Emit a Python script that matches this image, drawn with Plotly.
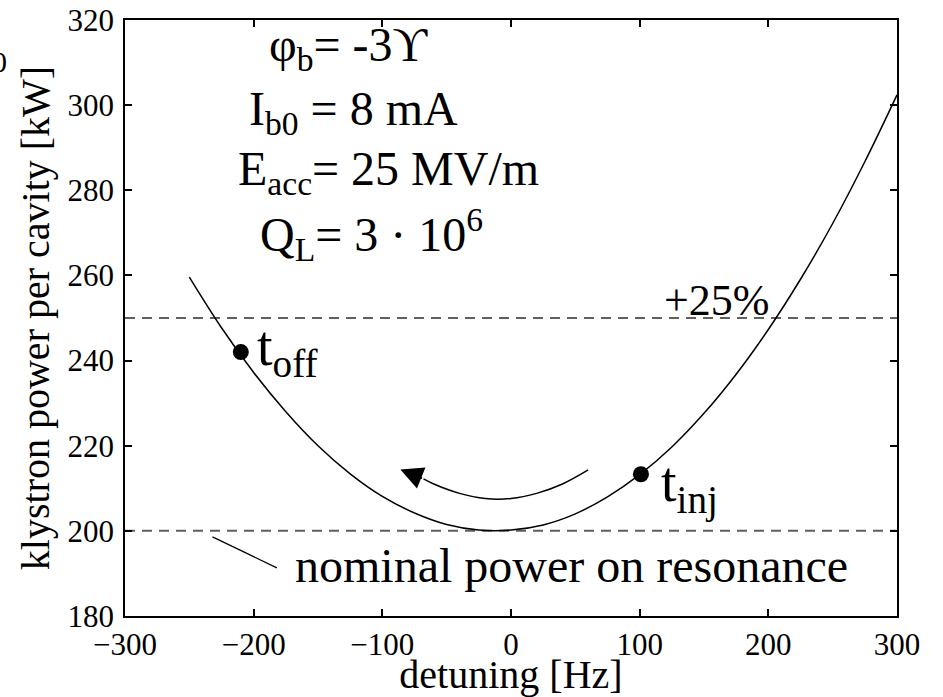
import plotly.graph_objects as go

# ---- data ----
detuning = [-250, -225, -200, -175, -150, -125, -100, -75, -50, -25, 0, 25,
            50, 75, 100, 125, 150, 175, 200, 225, 250, 275, 300]
power = [259.6, 247.7, 237.2, 228.0, 220.0, 213.4, 208.1, 204.2, 201.5, 200.2,
         200.2, 201.4, 204.0, 208.0, 213.2, 219.7, 227.6, 236.8, 247.3, 259.1,
         272.2, 286.7, 302.4]

ref_levels = [200, 250]
ref_x = [-300, 300]

event_x = [-210, 101]
event_y = [242.0, 213.3]

arrow_x = [60, 40, 20, 0, -20, -40, -60, -68]
arrow_y = [214.3, 211.0, 208.8, 207.6, 207.6, 208.8, 211.0, 212.2]
arrow_tip = (-86, 214.4)

leader_x = [-232, -182]
leader_y = [198.6, 191.3]

x_ticks = [-300, -200, -100, 0, 100, 200, 300]
y_ticks = [180, 200, 220, 240, 260, 280, 300, 320]

FONT = "Liberation Serif"

fig = go.Figure()

for lvl in ref_levels:
    fig.add_trace(go.Scatter(x=ref_x, y=[lvl, lvl], mode="lines",
                             line=dict(color="#5f5f5f", width=2, dash="10px,7px"),
                             hoverinfo="skip", showlegend=False))

fig.add_trace(go.Scatter(x=detuning, y=power, mode="lines",
                         line=dict(color="black", width=1.5, shape="spline"),
                         showlegend=False))

fig.add_trace(go.Scatter(x=arrow_x, y=arrow_y, mode="lines",
                         line=dict(color="black", width=1.5, shape="spline"),
                         showlegend=False))

fig.add_trace(go.Scatter(x=leader_x, y=leader_y, mode="lines",
                         line=dict(color="black", width=1.3),
                         showlegend=False))

fig.add_trace(go.Scatter(x=event_x, y=event_y, mode="markers",
                         marker=dict(color="black", size=16),
                         showlegend=False))

ann = []
ann.append(dict(x=arrow_tip[0], y=arrow_tip[1], ax=arrow_x[-1], ay=arrow_y[-1],
                xref="x", yref="y", axref="x", ayref="y", text="",
                showarrow=True, arrowhead=2, arrowsize=3, arrowwidth=1.5,
                arrowcolor="black"))

params = [
    ("φ<sub>b</sub>= -3ϒ", -190, 313.5),
    ("I<sub>b0</sub> = 8 mA", -205, 298.5),
    ("E<sub>acc</sub>= 25 MV/m", -214, 284.3),
    ("Q<sub>L</sub>= 3 · 10<sup>6</sup>", -197, 269.5),
]
for txt, x, y in params:
    ann.append(dict(x=x, y=y, xref="x", yref="y", text=txt, showarrow=False,
                    xanchor="left", yanchor="middle",
                    font=dict(family=FONT, size=48, color="black")))

ann.append(dict(x=117, y=254.2, xref="x", yref="y", text="+25%", showarrow=False,
                xanchor="left", yanchor="middle",
                font=dict(family=FONT, size=44, color="black")))
ann.append(dict(x=-199, y=242.5, xref="x", yref="y", text="t<sub>off</sub>",
                showarrow=False, xanchor="left", yanchor="middle",
                font=dict(family=FONT, size=56, color="black")))
ann.append(dict(x=115, y=210.5, xref="x", yref="y", text="t<sub>inj</sub>",
                showarrow=False, xanchor="left", yanchor="middle",
                font=dict(family=FONT, size=56, color="black")))
ann.append(dict(x=47, y=191.8, xref="x", yref="y", text="nominal power on resonance",
                showarrow=False, xanchor="center", yanchor="middle",
                font=dict(family=FONT, size=48, color="black")))
ann.append(dict(x=-0.150, y=0.93, xref="paper", yref="paper", text="0",
                showarrow=False, xanchor="right", yanchor="middle",
                font=dict(family=FONT, size=30, color="black")))

axis_common = dict(showgrid=False, zeroline=False, showline=True, linecolor="black",
                   linewidth=1.5, ticks="inside", ticklen=7, tickwidth=1.5,
                   tickcolor="black", mirror="ticks", automargin=False,
                   tickfont=dict(family=FONT, size=31, color="black"))

fig.update_layout(
    width=943, height=697,
    margin=dict(l=125, r=46, t=20, b=81, autoexpand=False),
    paper_bgcolor="white", plot_bgcolor="white",
    font=dict(family=FONT, color="black"),
    annotations=ann,
    xaxis=dict(range=[-300, 300], tickvals=x_ticks,
               title=dict(text="detuning [Hz]", standoff=4,
                          font=dict(family=FONT, size=40, color="black")),
               **axis_common),
    yaxis=dict(range=[180, 320], tickvals=y_ticks, ticklabelstandoff=3,
               title=dict(text="klystron power per cavity [kW]", standoff=6,
                          font=dict(family=FONT, size=40, color="black")),
               **axis_common),
)

fig.write_html("out.html")
